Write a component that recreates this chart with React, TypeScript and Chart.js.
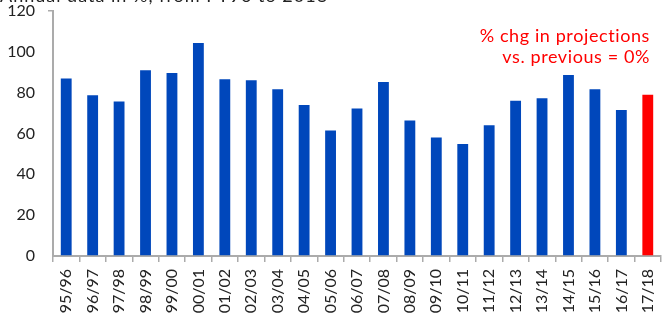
import React, { useEffect, useRef } from "react";
import { Chart, registerables } from "chart.js";

Chart.register(...registerables);

const categories = [
  "95/96", "96/97", "97/98", "98/99", "99/00", "00/01", "01/02", "02/03",
  "03/04", "04/05", "05/06", "06/07", "07/08", "08/09", "09/10", "10/11",
  "11/12", "12/13", "13/14", "14/15", "15/16", "16/17", "17/18",
];
const values = [
  87, 78.7, 75.7, 91, 89.6, 104.3, 86.6, 86.1, 81.7, 73.9, 61.5, 72.3,
  85.2, 66.4, 58.1, 54.8, 64.1, 76, 77.3, 88.7, 81.7, 71.5, 79,
];
const projectionIndex = 22;
const yTicks = [0, 20, 40, 60, 80, 100, 120];
const titleText = "Annual data in %, from FY96 to 2018";
const noteLines = ["% chg in projections", "vs. previous = 0%"];

const FONT = "Lato, 'DejaVu Sans', sans-serif";
const BLUE = "#0047BB";
const RED = "#FF0000";
const AXIS = "#ABABAB";

export default function App() {
  const ref = useRef<HTMLCanvasElement | null>(null);

  useEffect(() => {
    document.body.style.margin = "0";
    const canvas = ref.current;
    if (!canvas) return;

    const textPlugin = {
      id: "texts",
      afterDraw(chart: any) {
        const ctx = chart.ctx;
        ctx.save();
        ctx.font = `18px ${FONT}`;
        (ctx as any).letterSpacing = "1px";
        ctx.fillStyle = "#222";
        ctx.textAlign = "left";
        ctx.textBaseline = "alphabetic";
        ctx.fillText(titleText, 0, 2);
        ctx.fillStyle = RED;
        ctx.textAlign = "right";
        ctx.font = `18px ${FONT}`;
        (ctx as any).letterSpacing = "0.6px";
        ctx.fillText(noteLines[0], 650, 42);
        ctx.fillText(noteLines[1], 650, 63);
        ctx.restore();
      },
    };

    const chart = new Chart(canvas, {
      type: "bar",
      data: {
        labels: categories,
        datasets: [
          {
            data: values,
            backgroundColor: values.map((_, i) => (i === projectionIndex ? RED : BLUE)),
            borderWidth: 0,
            categoryPercentage: 1,
            barPercentage: 0.41,
          },
        ],
      },
      options: {
        responsive: false,
        animation: false,
        layout: { padding: { top: 11, right: 2, left: 0, bottom: 0 } },
        plugins: {
          legend: { display: false },
          tooltip: { enabled: false },
          title: { display: false },
        },
        scales: {
          x: {
            grid: {
              display: true,
              drawOnChartArea: false,
              drawTicks: true,
              tickLength: 6,
              color: AXIS,
              lineWidth: 1.5,
              offset: true,
            },
            border: { color: AXIS, width: 2 },
            ticks: {
              minRotation: 90,
              maxRotation: 90,
              autoSkip: false,
              padding: 7,
              color: "#222",
              font: { family: FONT, size: 16 },
            },
            afterFit(scale: any) {
              scale.height = 64;
              scale.paddingLeft = 0;
              scale.paddingRight = 0;
            },
          },
          y: {
            min: 0,
            max: 120,
            afterBuildTicks(scale: any) {
              scale.ticks = yTicks.map((v) => ({ value: v }));
            },
            grid: {
              display: true,
              drawOnChartArea: false,
              drawTicks: true,
              tickLength: 5,
              color: (ctx: any) => (ctx.tick && ctx.tick.value === 120 ? AXIS : "rgba(0,0,0,0)"),
              lineWidth: 1.5,
            },
            border: { color: AXIS, width: 2 },
            ticks: {
              padding: 13,
              color: "#222",
              font: { family: FONT, size: 16 },
            },
            afterFit(scale: any) {
              scale.width = 53;
              scale.paddingTop = 0;
              scale.paddingBottom = 0;
            },
          },
        },
      },
      plugins: [textPlugin],
    });

    return () => chart.destroy();
  }, []);

  return (
    <div style={{ position: "fixed", left: 0, top: 0, width: 663, height: 320, background: "#fff" }}>
      <canvas ref={ref} width={663} height={320} style={{ width: 663, height: 320, display: "block" }} />
    </div>
  );
}
